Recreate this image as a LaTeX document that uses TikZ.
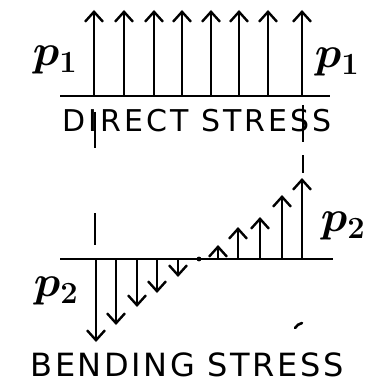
\RequirePackage{fix-cm}
\documentclass[tikz,border=0pt]{standalone}
\usepackage{fontspec}
\newfontfamily\lettering{DejaVu Sans}
\usetikzlibrary{arrows.meta}

\begin{document}
\begin{tikzpicture}[x=1pt,y=-1pt,
  base/.style={line width=2.8pt},
  arr/.style={line width=2.4pt,-{Straight Barb[length=10pt,width=18pt,line width=2.4pt]}},
  cline/.style={line width=2.2pt},
  lbl/.style={font=\fontsize{44}{44}\selectfont\boldmath},
  caption/.style={inner sep=1pt}]
\useasboundingbox (0,0) rectangle (372,385);
% direct stress
\coordinate (dl) at (60,96); \coordinate (dr) at (330,96);
\draw[base] (dl) -- (dr);
\foreach \x [count=\i] in {94,124,154,182,211,239,268,302}{
  \coordinate (db\i) at (\x,96); \coordinate (dt\i) at (\x,10);
  \draw[arr] (db\i) -- (dt\i);}
\node[lbl] (p1l) at (55,60) {$p_1$};
\node[lbl] (p1r) at (337,62) {$p_1$};
\node[caption,font=\lettering\fontsize{30}{30}\selectfont\addfontfeature{LetterSpace=10}] (direct) at (197,121) {DIRECT STRESS};
% centre lines
\draw[cline] (95,112) -- (95,148) (95,213) -- (95,245);
\draw[cline] (303,105) -- (303,142) (303,155) -- (303,173);
% bending stress
\coordinate (bl) at (60,259); \coordinate (br) at (333,259);
\draw[base] (bl) -- (br);
\fill (199,259) circle (2.4pt);
\foreach \x/\y [count=\i] in {218/245,238/227,260/217,282/195,302/178}{
  \coordinate (ub\i) at (\x,259); \coordinate (ut\i) at (\x,\y);
  \draw[arr] (ub\i) -- (ut\i);}
\foreach \x/\y [count=\i] in {96/342,116/325,137/307,157/293,178/277}{
  \coordinate (lb\i) at (\x,259); \coordinate (lt\i) at (\x,\y);
  \draw[arr] (lb\i) -- (lt\i);}
\node[lbl] (p2l) at (56,291) {$p_2$};
\node[lbl] (p2r) at (343,226) {$p_2$};
\draw[line width=2.6pt,line cap=round] (295,328) to[bend left=20] (302,323);
\node[caption,font=\lettering\fontsize{32}{32}\selectfont\addfontfeature{LetterSpace=8}] (bending) at (187,365) {BENDING STRESS};
\end{tikzpicture}
\end{document}
